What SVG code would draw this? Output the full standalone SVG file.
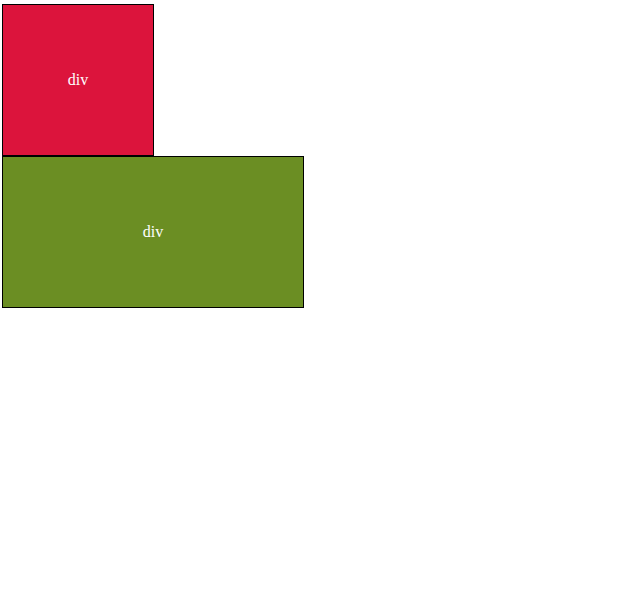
<svg xmlns="http://www.w3.org/2000/svg" width="627" height="608" viewBox="0 0 627 608">
<style>
.box{stroke:#000;stroke-width:1}
.lbl{font-family:"Liberation Serif","Times New Roman",serif;font-size:16px;fill:#fff;text-anchor:middle;dominant-baseline:central}
</style>
<rect width="627" height="608" fill="#fff"/>
<g id="div1">
<rect class="box" x="2.5" y="4.5" width="151" height="151" fill="#dc143c"/>
<text class="lbl" x="78" y="79">div</text>
</g>
<g id="div2">
<rect class="box" x="2.5" y="156.5" width="301" height="151" fill="#6b8e23"/>
<text class="lbl" x="153" y="231">div</text>
</g>
<g id="connectors"/>
</svg>
